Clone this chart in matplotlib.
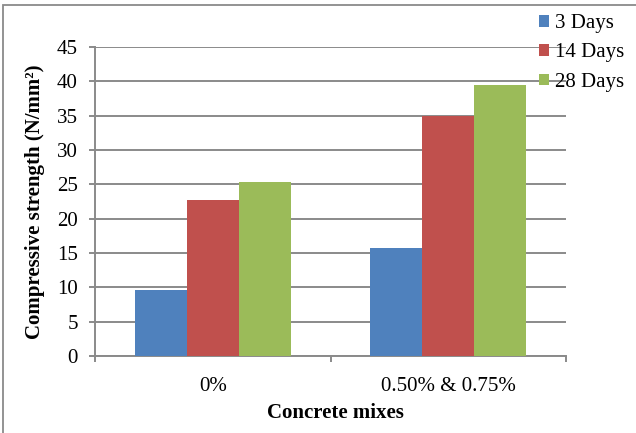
import matplotlib
matplotlib.use("Agg")
import matplotlib.pyplot as plt
from matplotlib.patches import Rectangle
import numpy as np

# Compressive strength (N/mm²) of the concrete mixes at each curing age
mixes = ["0%", "0.50% & 0.75%"]
ages = ["3 Days", "14 Days", "28 Days"]
strength_3d = [9.6, 15.8]
strength_14d = [22.7, 34.9]
strength_28d = [25.3, 39.5]
y_ticks = [0, 5, 10, 15, 20, 25, 30, 35, 40, 45]

colors = ["#4F81BD", "#C0504D", "#9BBB59"]
grid_grey = "#8A8A8A"
FS = 15

plt.rcParams["font.family"] = ["Liberation Serif", "DejaVu Serif"]

W, H = 636, 433
fig = plt.figure(figsize=(W / 100, H / 100), dpi=100)
ax = fig.add_axes([95 / W, 1 - 356 / H, (566 - 95) / W, (356 - 47) / H])

x = np.arange(len(mixes))
bw = 0.221
series = [strength_3d, strength_14d, strength_28d]
for i, (vals, lab, col) in enumerate(zip(series, ages, colors)):
    ax.bar(x + (i - 1) * bw, vals, width=bw, color=col, label=lab,
           zorder=3, linewidth=0)

ax.set_xlim(-0.5, 1.5)
ax.set_ylim(0, 45)
ax.set_yticks(y_ticks)
ax.set_yticklabels([str(v) for v in y_ticks], fontsize=FS)
ax.yaxis.grid(True, color=grid_grey, linewidth=1.4, zorder=0)
ax.set_axisbelow(True)

# category labels centred, tick marks on the category boundaries
ax.set_xticks(x)
ax.set_xticklabels(mixes, fontsize=FS)
ax.tick_params(axis="x", which="major", length=0, pad=15)
ax.set_xticks([-0.5, 0.5, 1.5], minor=True)
ax.tick_params(axis="x", which="minor", length=4.3, width=1.4,
               color=grid_grey, direction="out")
ax.tick_params(axis="y", length=4.3, width=1.4, color=grid_grey,
               direction="out", pad=8)

for side in ["top", "right"]:
    ax.spines[side].set_visible(False)
for side in ["left", "bottom"]:
    ax.spines[side].set_color(grid_grey)
    ax.spines[side].set_linewidth(1.4)

fig.text(35 / W, 1 - 202 / H, "Compressive strength (N/mm²)", rotation=90,
         ha="center", va="center", fontsize=FS, fontweight="bold")
fig.text(335 / W, 1 - 413 / H, "Concrete mixes", ha="center", va="center",
         fontsize=FS, fontweight="bold")

leg = ax.legend(loc="upper left", bbox_to_anchor=(539 / W, 1 - 14 / H),
                bbox_transform=fig.transFigure, frameon=False, fontsize=FS,
                handlelength=0.5, handleheight=0.5, handletextpad=0.25,
                labelspacing=0.5, borderpad=0, borderaxespad=0)

# thin frame around the chart area
fig.patches.append(Rectangle((3.5 / W, -0.05), 1.1, 1 - 5 / H + 0.05,
                             transform=fig.transFigure, fill=False,
                             edgecolor=grid_grey, linewidth=1.3))

fig.savefig("out.png", dpi=100)
